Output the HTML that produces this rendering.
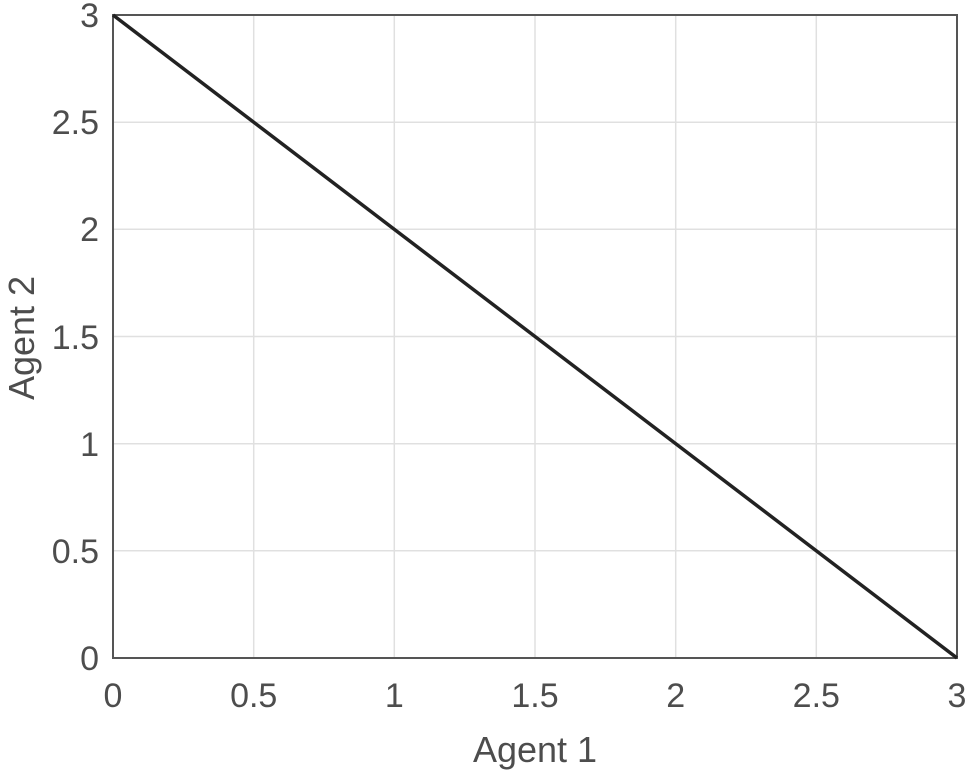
<!DOCTYPE html><html><head><style>body{margin:0;background:#fff}</style></head><body>
<svg width="969" height="774" xmlns="http://www.w3.org/2000/svg" font-family="Liberation Sans, sans-serif" fill="#4d4d4d">
<g stroke="#e0e0e0" stroke-width="1.5">
<line x1="253.7" y1="15" x2="253.7" y2="658"/><line x1="394.3" y1="15" x2="394.3" y2="658"/><line x1="535" y1="15" x2="535" y2="658"/><line x1="675.7" y1="15" x2="675.7" y2="658"/><line x1="816.3" y1="15" x2="816.3" y2="658"/>
<line x1="113" y1="122.2" x2="957" y2="122.2"/><line x1="113" y1="229.3" x2="957" y2="229.3"/><line x1="113" y1="336.5" x2="957" y2="336.5"/><line x1="113" y1="443.7" x2="957" y2="443.7"/><line x1="113" y1="550.8" x2="957" y2="550.8"/>
</g>
<rect x="113" y="15" width="844" height="643" fill="none" stroke="#555" stroke-width="2"/>
<line x1="113" y1="15" x2="957" y2="658" stroke="#222" stroke-width="3.5"/>
<g font-size="34" text-anchor="middle">
<text x="113" y="707">0</text><text x="253.7" y="707">0.5</text><text x="394.3" y="707">1</text><text x="535" y="707">1.5</text><text x="675.7" y="707">2</text><text x="816.3" y="707">2.5</text><text x="957" y="707">3</text>
</g>
<text font-size="36" text-anchor="middle" x="535" y="762">Agent 1</text>
<g font-size="34" text-anchor="end">
<text x="99" y="670">0</text><text x="99" y="563">0.5</text><text x="99" y="456">1</text><text x="99" y="349">1.5</text><text x="99" y="241">2</text><text x="99" y="134">2.5</text><text x="99" y="27">3</text>
</g>
<text font-size="36" text-anchor="middle" transform="translate(34,338) rotate(-90)">Agent 2</text>
</svg></body></html>
